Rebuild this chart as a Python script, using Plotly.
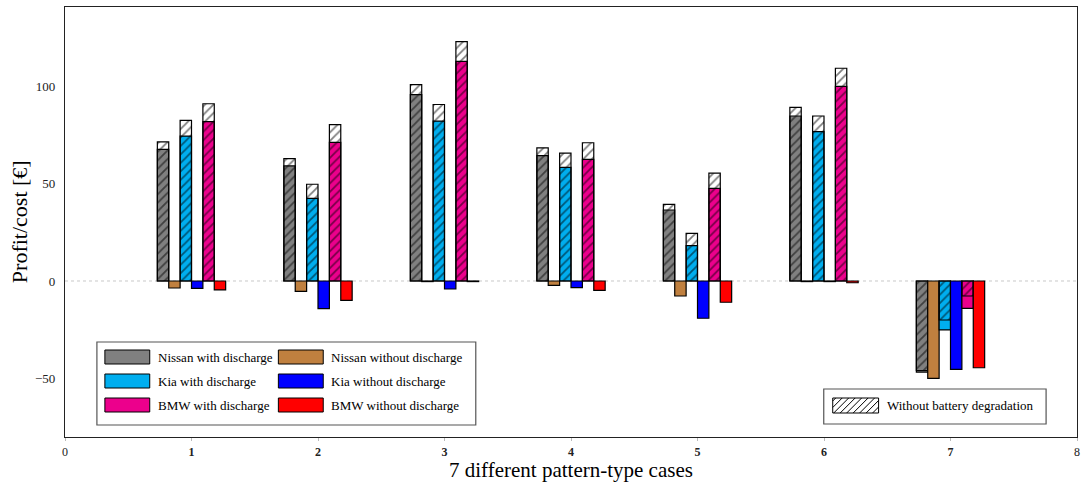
import plotly.graph_objects as go

cases = [1, 2, 3, 4, 5, 6, 7]
x_ticks = [0, 1, 2, 3, 4, 5, 6, 7, 8]
x_ticklabels = ["0", "<b>1</b>", "<b>2</b>", "<b>3</b>", "<b>4</b>", "<b>5</b>", "<b>6</b>", "<b>7</b>", "8"]
y_ticks = [-50, 0, 50, 100]
y_ticklabels = ["\u221250", "0", "50", "100"]

# with battery degradation (coloured) and without battery degradation (hatched outline)
nissan_with = [67.5, 59.0, 95.6, 64.3, 36.4, 84.6, -46.7]
nissan_with_nodeg = [71.3, 62.7, 100.7, 68.3, 39.3, 89.0, -45.9]
kia_with = [74.3, 42.4, 82.0, 58.3, 18.1, 76.6, -25.1]
kia_with_nodeg = [82.4, 49.6, 90.5, 65.6, 24.4, 84.6, -20.0]
bmw_with = [81.7, 71.1, 112.6, 62.4, 47.5, 99.8, -14.0]
bmw_with_nodeg = [90.9, 80.2, 122.7, 70.9, 55.3, 109.1, -7.7]
nissan_without = [-3.6, -5.3, -0.3, -2.2, -7.7, -0.3, -49.9]
kia_without = [-3.8, -14.2, -4.1, -3.4, -19.1, -0.3, -45.3]
bmw_without = [-4.6, -9.9, -0.3, -4.8, -10.9, -0.9, -44.5]

C_NISSAN = "#808080"
C_NISSAN_WO = "#c0803f"
C_KIA = "#00aeef"
C_KIA_WO = "#0000ff"
C_BMW = "#ec008c"
C_BMW_WO = "#ff0000"

BW = 0.09
FONT = "Liberation Serif"

fig = go.Figure()

def add_solid(vals, offset, color):
    fig.add_trace(go.Bar(
        x=[c + offset for c in cases], y=vals, width=BW,
        marker=dict(color=color, line=dict(color="black", width=1.2)),
        showlegend=False, hoverinfo="skip"))

def add_hatch(vals, offset):
    fig.add_trace(go.Bar(
        x=[c + offset for c in cases], y=vals, width=BW,
        marker=dict(color="rgba(0,0,0,0)", line=dict(color="black", width=1.2),
                    pattern=dict(shape="/", fgcolor="black", bgcolor="rgba(0,0,0,0)",
                                 fillmode="overlay", size=6, solidity=0.3)),
        showlegend=False, hoverinfo="skip"))

add_solid(nissan_with, -0.225, C_NISSAN)
add_hatch(nissan_with_nodeg, -0.225)
add_solid(nissan_without, -0.135, C_NISSAN_WO)
add_solid(kia_with, -0.045, C_KIA)
add_hatch(kia_with_nodeg, -0.045)
add_solid(kia_without, 0.045, C_KIA_WO)
add_solid(bmw_with, 0.135, C_BMW)
add_hatch(bmw_with_nodeg, 0.135)
add_solid(bmw_without, 0.225, C_BMW_WO)

W, H = 1084, 486
L, R, T, B = 65, 4, 7, 49
PW, PH = W - L - R, H - T - B

def px(x):
    return (x - L) / PW

def py(y):
    return (H - B - y) / PH

shapes = []
annotations = []

# dotted zero line
shapes.append(dict(type="line", xref="paper", yref="y", x0=0, x1=1, y0=0, y1=0,
                   line=dict(color="#c8c8c8", width=1, dash="dot"), layer="below"))

# legend 1 box
shapes.append(dict(type="rect", xref="paper", yref="paper",
                   x0=px(97), x1=px(477), y0=py(425), y1=py(342),
                   line=dict(color="#555555", width=1.2), fillcolor="white"))
legend_items = [
    ("Nissan with discharge", C_NISSAN, 105, 357),
    ("Kia with discharge", C_KIA, 105, 381),
    ("BMW with discharge", C_BMW, 105, 405),
    ("Nissan without discharge", C_NISSAN_WO, 279, 357),
    ("Kia without discharge", C_KIA_WO, 279, 381),
    ("BMW without discharge", C_BMW_WO, 279, 405),
]
for name, col, sx, cy in legend_items:
    shapes.append(dict(type="rect", xref="paper", yref="paper",
                       x0=px(sx), x1=px(sx + 45), y0=py(cy + 7), y1=py(cy - 7),
                       line=dict(color="black", width=1), fillcolor=col))
    annotations.append(dict(xref="paper", yref="paper", x=px(sx + 51), y=py(cy),
                            xanchor="left", yanchor="middle", showarrow=False,
                            text=name, font=dict(family=FONT, size=13, color="black")))

# legend 2 box
shapes.append(dict(type="rect", xref="paper", yref="paper",
                   x0=px(826), x1=px(1049), y0=py(424), y1=py(389),
                   line=dict(color="#555555", width=1.2), fillcolor="white"))
sx0, sx1, st, sb = 835, 881, 398, 413
shapes.append(dict(type="rect", xref="paper", yref="paper",
                   x0=px(sx0), x1=px(sx1), y0=py(sb), y1=py(st),
                   line=dict(color="black", width=1), fillcolor="white"))
path = ""
s = sx0 + st + 3
while s < sx1 + sb:
    xa = max(sx0, s - sb)
    xb = min(sx1, s - st)
    if xb > xa:
        path += "M{:.5f},{:.5f} L{:.5f},{:.5f} ".format(px(xa), py(s - xa), px(xb), py(s - xb))
    s += 6.5
shapes.append(dict(type="path", xref="paper", yref="paper", path=path,
                   line=dict(color="black", width=1)))
annotations.append(dict(xref="paper", yref="paper", x=px(887), y=py(405.5),
                        xanchor="left", yanchor="middle", showarrow=False,
                        text="Without battery degradation",
                        font=dict(family=FONT, size=13, color="black")))

# axis titles
annotations.append(dict(xref="paper", yref="paper", x=px(572), y=py(470),
                        xanchor="center", yanchor="middle", showarrow=False,
                        text="7 different pattern-type cases",
                        font=dict(family=FONT, size=21, color="black")))
annotations.append(dict(xref="paper", yref="paper", x=px(19), y=py(222),
                        xanchor="center", yanchor="middle", showarrow=False, textangle=-90,
                        text="Profit/cost [\u20ac]",
                        font=dict(family=FONT, size=22, color="black")))

fig.update_layout(
    width=W, height=H,
    margin=dict(l=L, r=R, t=T, b=B),
    barmode="overlay",
    plot_bgcolor="white", paper_bgcolor="white",
    font=dict(family=FONT, size=13, color="#222222"),
    shapes=shapes, annotations=annotations,
    xaxis=dict(range=[0, 8], tickvals=x_ticks, ticktext=x_ticklabels,
               showgrid=False, zeroline=False, showline=True, linecolor="#222222",
               linewidth=1.2, mirror=True, ticks="outside", ticklen=3, tickcolor="#bbbbbb",
               tickfont=dict(family=FONT, size=12, color="#222222")),
    yaxis=dict(range=[-80, 140.5], tickvals=y_ticks, ticktext=y_ticklabels,
               showgrid=False, zeroline=False, showline=True, linecolor="#222222",
               linewidth=1.2, mirror=True, ticks="", ticklabelstandoff=6,
               tickfont=dict(family=FONT, size=13, color="#222222")),
)

fig.write_html("out.html")
